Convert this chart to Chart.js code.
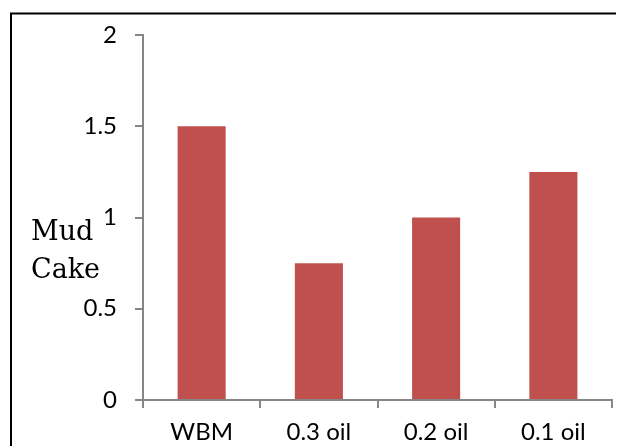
<!DOCTYPE html>
<html>
<head>
<meta charset="utf-8">
<script src="https://cdn.jsdelivr.net/npm/chart.js@4/dist/chart.umd.min.js"></script>
<style>
html,body{margin:0;padding:0;background:#fff;}
#wrap{position:relative;width:617px;height:446px;}
</style>
</head>
<body>
<div id="wrap"><canvas id="c" width="617" height="446"></canvas></div>
<script>
const categories = ['WBM', '0.3 oil', '0.2 oil', '0.1 oil'];
const mudCake = [1.5, 0.75, 1.0, 1.25];
const yTicks = [0, 0.5, 1, 1.5, 2];
const yTickLabels = ['0', '0.5', '1', '1.5', '2'];
const titleLines = ['Mud', 'Cake'];

const axisColor = '#868686';
const tickFont = {family: 'Lato', size: 24};

const frame = {
  id: 'frame',
  beforeDraw(chart) {
    const ctx = chart.ctx;
    ctx.save();
    ctx.fillStyle = '#fff';
    ctx.fillRect(0, 0, chart.width, chart.height);
    ctx.strokeStyle = '#000';
    ctx.lineWidth = 2;
    ctx.beginPath();
    ctx.moveTo(11, 460);
    ctx.lineTo(11, 13.5);
    ctx.lineTo(616, 13.5);
    ctx.stroke();
    ctx.restore();
  },
  afterDraw(chart) {
    const ctx = chart.ctx;
    ctx.save();
    ctx.fillStyle = '#000';
    ctx.font = '27px "DejaVu Serif"';
    ctx.textBaseline = 'alphabetic';
    ctx.textAlign = 'left';
    ctx.fillText(titleLines[0], 31, 240);
    ctx.fillText(titleLines[1], 31, 278);
    ctx.restore();
  }
};

new Chart(document.getElementById('c'), {
  type: 'bar',
  data: {
    labels: categories,
    datasets: [{
      data: mudCake,
      backgroundColor: '#C0504D',
      borderWidth: 0,
      barPercentage: 0.41,
      categoryPercentage: 1.0
    }]
  },
  options: {
    responsive: false,
    animation: false,
    layout: {padding: {left: 0, right: 5, top: 35, bottom: 0}},
    plugins: {legend: {display: false}, tooltip: {enabled: false}},
    scales: {
      y: {
        min: 0, max: 2,
        afterBuildTicks(s) { s.ticks = yTicks.map(v => ({value: v})); },
        afterFit(s) { s.width = 143; },
        border: {color: axisColor, width: 2},
        grid: {drawOnChartArea: false, drawTicks: true, tickLength: 8, color: axisColor, lineWidth: 2},
        ticks: {
          color: '#000', font: tickFont, padding: 18,
          callback: (v) => yTickLabels[yTicks.indexOf(v)]
        }
      },
      x: {
        afterFit(s) { s.height = 46; },
        border: {color: axisColor, width: 2},
        grid: {drawOnChartArea: false, drawTicks: true, tickLength: 8, color: axisColor, lineWidth: 2, offset: true},
        ticks: {color: '#000', font: tickFont, padding: 10, maxRotation: 0}
      }
    }
  },
  plugins: [frame]
});
</script>
</body>
</html>
